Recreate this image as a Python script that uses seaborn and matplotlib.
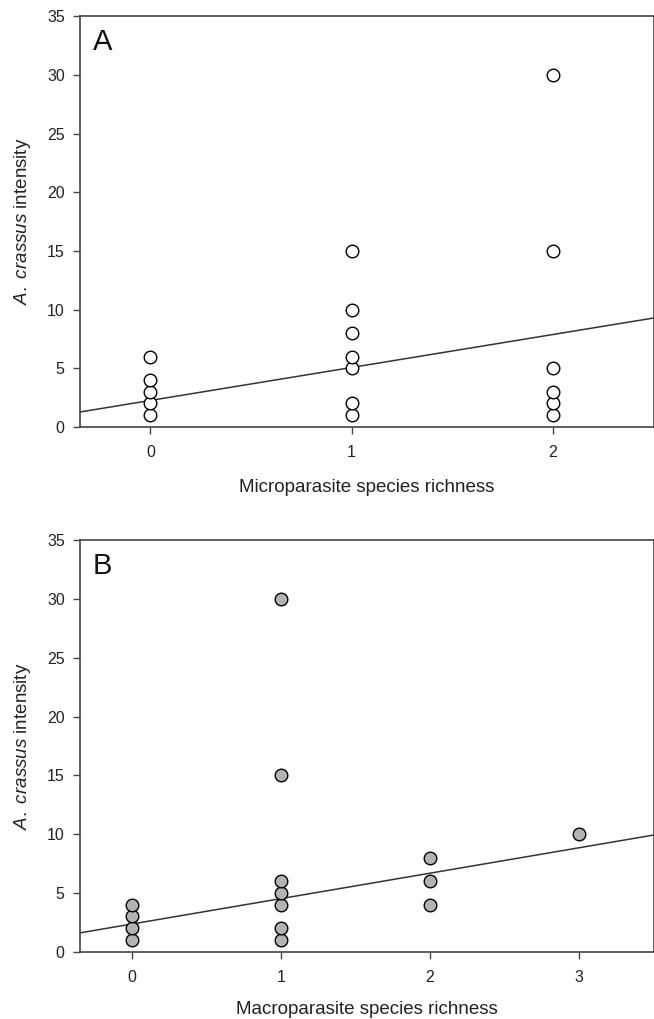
import numpy as np
import pandas as pd
import matplotlib
matplotlib.use("Agg")
import matplotlib.pyplot as plt
import seaborn as sns

# ---- data ----
micro_x = [0, 0, 0, 0, 0, 1, 1, 1, 1, 1, 1, 1, 2, 2, 2, 2, 2, 2]
micro_y = [1, 2, 3, 4, 6, 1, 2, 5, 6, 8, 10, 15, 1, 2, 3, 5, 15, 30]
macro_x = [0, 0, 0, 0, 1, 1, 1, 1, 1, 1, 1, 2, 2, 2, 3]
macro_y = [1, 2, 3, 4, 1, 2, 4, 5, 6, 15, 30, 4, 6, 8, 10]
fit_A = (2.26, 2.81)   # intercept, slope
fit_B = (2.36, 2.16)
yticks = [0, 5, 10, 15, 20, 25, 30, 35]

sns.set_style("ticks")
plt.rcParams['font.family'] = ['Liberation Sans', 'DejaVu Sans']
plt.rcParams['mathtext.fontset'] = 'custom'
plt.rcParams['mathtext.it'] = 'Liberation Sans:italic'
plt.rcParams['mathtext.rm'] = 'Liberation Sans'

fig = plt.figure(figsize=(6.54, 10.19), dpi=100)
axA = fig.add_axes([0.1223, 0.581, 0.877, 0.403])
axB = fig.add_axes([0.1223, 0.066, 0.877, 0.404])

dfA = pd.DataFrame({"x": micro_x, "y": micro_y})
dfB = pd.DataFrame({"x": macro_x, "y": macro_y})

sns.scatterplot(data=dfA, x="x", y="y", ax=axA, s=82, color="white",
                edgecolor="black", linewidth=1.0, zorder=3)
sns.scatterplot(data=dfB, x="x", y="y", ax=axB, s=82, color="#b3b3b3",
                edgecolor="black", linewidth=1.0, zorder=3)

for ax, fit, xlim, xticks, xlabel, letter, lpad in [
    (axA, fit_A, (-0.35, 2.5), [0, 1, 2], "Microparasite species richness", "A", 14),
    (axB, fit_B, (-0.35, 3.5), [0, 1, 2, 3], "Macroparasite species richness", "B", 12),
]:
    xs = np.array(xlim)
    ax.plot(xs, fit[0] + fit[1] * xs, color="#333333", lw=1.1, zorder=2)
    ax.set_xlim(*xlim)
    ax.set_ylim(0, 35)
    ax.set_xticks(xticks)
    ax.set_yticks(yticks)
    ax.tick_params(axis="both", direction="out", length=5, width=1,
                   color="#444444", labelsize=11.5, labelcolor="#222222", pad=6)
    ax.tick_params(axis="x", pad=8)
    for sp in ax.spines.values():
        sp.set_visible(True)
        sp.set_color("#444444")
        sp.set_linewidth(1.2)
    ax.set_xlabel(xlabel, fontsize=13.5, color="#222222", labelpad=lpad)
    ax.set_ylabel(r"$\mathit{A.\ crassus}$ intensity", fontsize=13.5,
                  color="#222222", labelpad=10)
    ax.text(0.022, 0.972, letter, transform=ax.transAxes, fontsize=21,
            va="top", ha="left", color="#111111")

fig.savefig("out.png", dpi=100)
